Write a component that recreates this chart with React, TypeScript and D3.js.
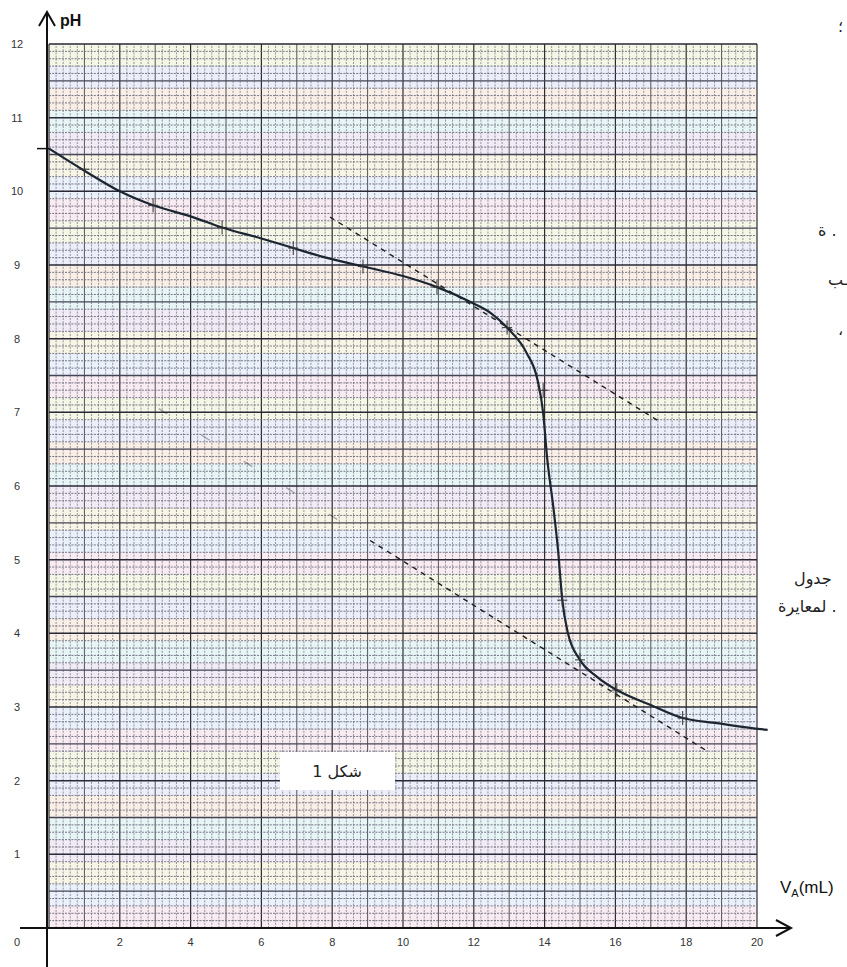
import React from 'react';
import * as d3 from 'd3';

// titration curve
const volumes = [0, 1, 2, 2.94, 4, 4.89, 6, 6.9, 7.74, 8.87, 10, 10.96, 11.98, 12.5, 12.94, 13.5, 13.8, 13.96, 14.07, 14.25, 14.38, 14.5, 14.66, 15.0, 15.48, 16.04, 16.98, 17.9, 18.87, 19.9, 20.3];
const phValues = [10.58, 10.28, 10.0, 9.81, 9.66, 9.51, 9.36, 9.23, 9.11, 8.98, 8.85, 8.7, 8.48, 8.34, 8.15, 7.8, 7.44, 6.99, 6.39, 5.7, 5.13, 4.45, 4.0, 3.64, 3.41, 3.23, 3.03, 2.85, 2.78, 2.71, 2.69];

// small crosses marking measured points
const markVolumes = [1, 2.94, 4.89, 6.9, 8.87, 10.96, 12.94, 13.96, 14.5, 15.0, 16.04, 17.9];
const markPh = [10.3, 9.81, 9.51, 9.23, 8.98, 8.7, 8.15, 7.3, 4.45, 3.64, 3.23, 2.85];

// tangents (dashed)
const tangentUpper = [[7.94, 9.65], [17.26, 6.87]];
const tangentLower = [[9.07, 5.26], [18.53, 2.42]];
const tangentLowerFaint = [[3.1, 7.05], [8.3, 5.5]];

const xTicks = [2, 4, 6, 8, 10, 12, 14, 16, 18, 20];
const yTicks = [1, 2, 3, 4, 5, 6, 7, 8, 9, 10, 11, 12];

// moire colours of the scanned graph paper
const bandColors = ['#f8ebf1', '#eaf1fa', '#f8f5e6', '#f1ebf6', '#e8f5f6', '#f9efe6', '#eceefa', '#f5f7e6'];

export default function App() {
  const width = 847;
  const height = 967;

  const x = d3.scaleLinear().domain([0, 20]).range([49, 757]);
  const y = d3.scaleLinear().domain([0, 12]).range([928, 44]);

  const line = d3.line<number>()
    .x((d, i) => x(volumes[i]))
    .y((d, i) => y(d))
    .curve(d3.curveMonotoneX);

  const bands = d3.range(0, 12, 0.3).map((v, i) => (
    <rect key={'b' + i}
          x={x(0)} width={x(20) - x(0)}
          y={y(Math.min(v + 0.3, 12))} height={y(v) - y(Math.min(v + 0.3, 12))}
          fill={bandColors[i % bandColors.length]} />
  ));

  // grid lines: fine, medium, major
  const vLines = d3.range(0, 100.5, 1).map(k => {
    const v = k * 0.2;
    const major = k % 10 === 0;
    const medium = k % 5 === 0;
    return (
      <line key={'v' + k} x1={x(v)} x2={x(v)} y1={y(0)} y2={y(12)}
            stroke={major ? '#2e2e2e' : medium ? '#555' : '#7c7c88'}
            strokeWidth={major ? 1.2 : medium ? 1 : 0.8}
            strokeDasharray={major || medium ? undefined : '2,1.2'} />
    );
  });

  const hLines = d3.range(0, 120.5, 1).map(k => {
    const v = k * 0.1;
    const major = k % 10 === 0;
    const medium = k % 5 === 0;
    return (
      <line key={'h' + k} x1={x(0)} x2={x(20)} y1={y(v)} y2={y(v)}
            stroke={major ? '#282836' : medium ? '#444456' : '#666678'}
            strokeWidth={major ? 1.5 : medium ? 1.3 : 0.9}
            strokeDasharray={major || medium ? undefined : '2,1.2'} />
    );
  });

  const marks = markVolumes.map((v, i) => (
    <g key={'m' + i} stroke="#333" strokeWidth={1}>
      <line x1={x(v)} x2={x(v)} y1={y(markPh[i]) - 7} y2={y(markPh[i]) + 7} />
      <line x1={x(v) - 5} x2={x(v) + 5} y1={y(markPh[i])} y2={y(markPh[i])} />
    </g>
  ));

  const seg = (p: number[][], key: string, dash: string, opacity: number) => (
    <line key={key} x1={x(p[0][0])} y1={y(p[0][1])} x2={x(p[1][0])} y2={y(p[1][1])}
          stroke="#1e1e1e" strokeWidth={1.4} strokeDasharray={dash} opacity={opacity} />
  );

  const tickFont = { fontFamily: 'Liberation Sans, Arial, sans-serif', fontSize: 11, fill: '#333' };
  const arabic = { fontFamily: 'DejaVu Sans, sans-serif', fontSize: 16, fill: '#222' };

  return (
    <svg width={width} height={height}
         style={{ position: 'absolute', left: 0, top: 0, background: '#fff' }}>
      <rect x={0} y={0} width={width} height={height} fill="#fff" />

      {bands}
      {vLines}
      {hLines}

      {/* box with the figure label */}
      <rect x={280} y={752} width={115} height={38} fill="#fff" />
      <text x={337} y={777} textAnchor="middle" style={arabic}>شكل 1</text>

      {seg(tangentUpper, 'tu', '5,5', 1)}
      {seg(tangentLower, 'tl', '5,5', 1)}
      {seg(tangentLowerFaint, 'tf', '10,40', 0.35)}

      <path d={line(phValues) || ''} fill="none" stroke="#1c2632" strokeWidth={2.2} />
      {marks}

      {/* axes */}
      <line x1={47} x2={47} y1={14} y2={967} stroke="#111" strokeWidth={2} />
      <polyline points="39,26 47,12 55,26" fill="none" stroke="#111" strokeWidth={2} />
      <line x1={20} x2={790} y1={928} y2={928} stroke="#111" strokeWidth={2} />
      <polyline points="776,920 791,928 776,936" fill="none" stroke="#111" strokeWidth={2} />
      <line x1={37} x2={49} y1={y(10.58)} y2={y(10.58)} stroke="#111" strokeWidth={1.5} />

      {xTicks.map(t => (
        <text key={'xt' + t} x={x(t)} y={946} textAnchor="middle" style={tickFont}>{t}</text>
      ))}
      <text x={17} y={946} textAnchor="middle" style={tickFont}>0</text>
      {yTicks.map(t => (
        <text key={'yt' + t} x={17} y={y(t) + 4} textAnchor="middle" style={tickFont}>{t}</text>
      ))}

      <text x={60} y={26} style={{ fontFamily: 'Liberation Sans, Arial, sans-serif', fontSize: 16, fontWeight: 'bold', fill: '#111' }}>pH</text>
      <text x={780} y={893} style={{ fontFamily: 'Liberation Sans, Arial, sans-serif', fontSize: 17, fill: '#111' }}>
        V<tspan fontSize={11} dy={4}>A</tspan><tspan dy={-4}>(mL)</tspan>
      </text>

      {/* fragments of the page text cut at the right edge */}
      <text x={838} y={32} style={arabic}>؛</text>
      <text x={818} y={236} style={arabic}>ة .</text>
      <text x={828} y={285} style={arabic}>ـب</text>
      <text x={838} y={335} style={arabic}>،</text>
      <text x={794} y={584} style={arabic}>جدول</text>
      <text x={778} y={612} style={arabic}>لمعايرة .</text>
    </svg>
  );
}
